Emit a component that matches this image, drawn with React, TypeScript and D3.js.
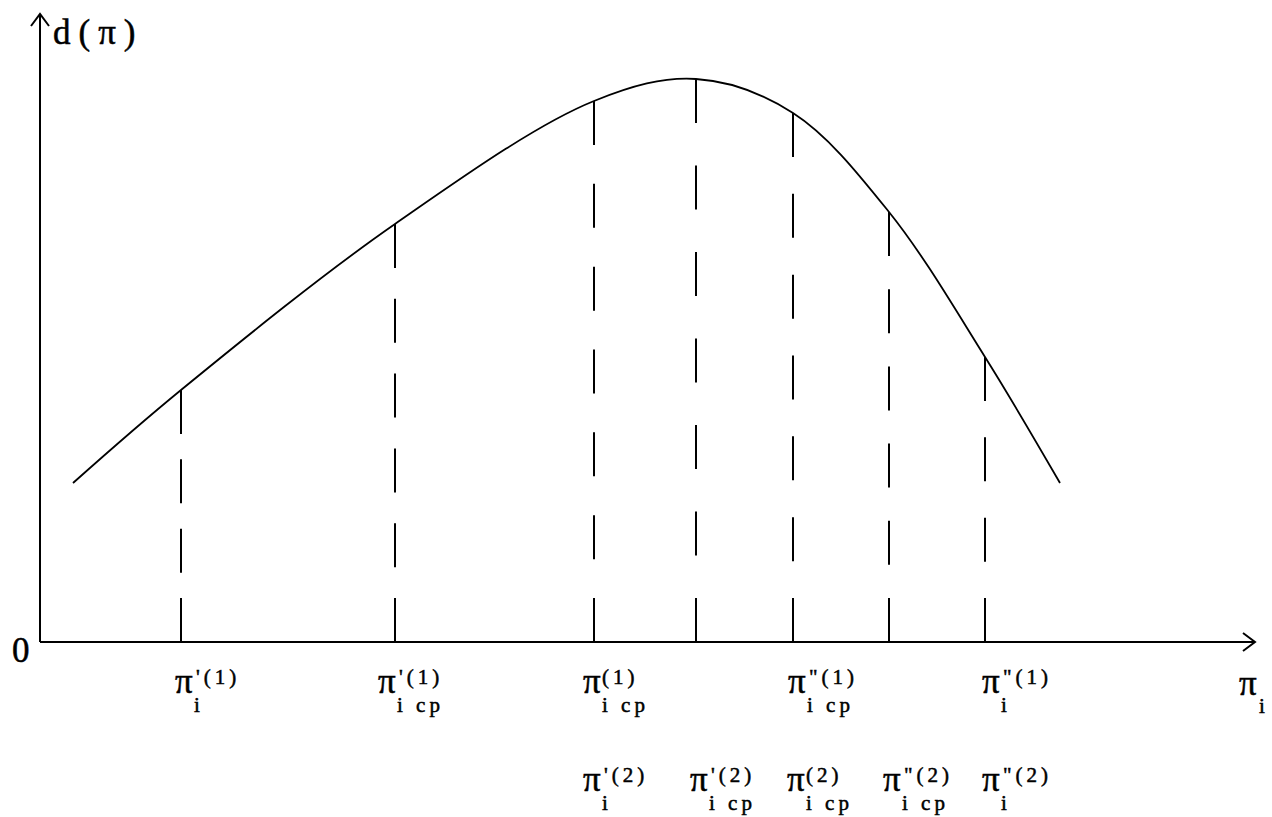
import React from "react";
import * as d3 from "d3";

// Curve d(π) sampled along the π_i axis (abstract units)
const PI_VALUES = [3.3, 14.1, 35.5, 55.4, 65.6, 75.3, 84.9, 94.5, 102.0];
const D_VALUES = [15.9, 25.2, 41.8, 54.1, 56.3, 52.9, 43.0, 28.5, 15.9];

// Positions of the characteristic points on the π_i axis (dashed drop lines)
const MARKERS = [14.1, 35.5, 55.4, 65.6, 75.3, 84.9, 94.5];

// Labels under the axis: first row (1), second row (2)
type Label = { at: number; prime: string; sup: string; sub: string; nudge: number };
const ROW1_LABELS: Label[] = [
  { at: 14.1, prime: "'", sup: "(1)", sub: "i", nudge: -6 },
  { at: 35.5, prime: "'", sup: "(1)", sub: "i cp", nudge: -17 },
  { at: 55.4, prime: "", sup: "(1)", sub: "i cp", nudge: -11 },
  { at: 75.3, prime: '"', sup: "(1)", sub: "i cp", nudge: -5 },
  { at: 94.5, prime: '"', sup: "(1)", sub: "i", nudge: -3 },
];
const ROW2_LABELS: Label[] = [
  { at: 55.4, prime: "'", sup: "(2)", sub: "i", nudge: -11 },
  { at: 65.6, prime: "'", sup: "(2)", sub: "i cp", nudge: -6 },
  { at: 75.3, prime: "", sup: "(2)", sub: "i cp", nudge: -6 },
  { at: 84.9, prime: '"', sup: "(2)", sub: "i cp", nudge: -6 },
  { at: 94.5, prime: '"', sup: "(2)", sub: "i", nudge: -3 },
];

const X_MAX = 121.5;
const Y_MAX = 62.8;

const W = 1272;
const H = 817;
const FONT = "'Liberation Serif', 'DejaVu Serif', serif";
const MAIN_SIZE = 35;
const SMALL_SIZE = 21;
const TEXT_STROKE = 0.5;

// Dash pattern that starts on the curve and ends exactly on the axis
const DASH = 44;
const GAP = 38;
function fitDash(length: number): string {
  const n = Math.max(2, Math.round((length + GAP) / (DASH + GAP)));
  const gap = (length - DASH * n) / (n - 1);
  return `${DASH} ${Math.max(gap, 4)}`;
}

function PiLabel({ x, baseline, prime, sup, sub }: { x: number; baseline: number; prime: string; sup: string; sub: string }) {
  const piW = 19;
  return (
    <g fill="#000" stroke="#000" strokeWidth={TEXT_STROKE} fontFamily={FONT}>
      <text x={x} y={baseline} fontSize={MAIN_SIZE}>π</text>
      <text x={x + piW + (prime ? 2 : 0)} y={baseline - 9} fontSize={SMALL_SIZE} letterSpacing={4}>
        {prime}
        {sup}
      </text>
      <text x={x + piW} y={baseline + 19} fontSize={SMALL_SIZE} letterSpacing={4} xmlSpace="preserve">
        {sub}
      </text>
    </g>
  );
}

export default function App() {
  const x = d3.scaleLinear().domain([0, X_MAX]).range([40, 1255]);
  const y = d3.scaleLinear().domain([0, Y_MAX]).range([642, 14]);

  const points = PI_VALUES.map((p, i) => [p, D_VALUES[i]] as [number, number]);
  const line = d3
    .line<[number, number]>()
    .x((d) => x(d[0]))
    .y((d) => y(d[1]))
    .curve(d3.curveCatmullRom.alpha(0.5));

  const dAt = (p: number) => D_VALUES[PI_VALUES.indexOf(p)];

  const x0 = x(0);
  const y0 = y(0);
  const xEnd = x(X_MAX);
  const yEnd = y(Y_MAX);

  return (
    <svg
      width={W}
      height={H}
      style={{ position: "absolute", left: 0, top: 0, background: "#fff" }}
    >
      {/* axes with open arrowheads */}
      <g stroke="#000" strokeWidth={2} fill="none">
        <line x1={x0} y1={y0} x2={x0} y2={yEnd} />
        <polyline points={`${x0 - 9},${yEnd + 12} ${x0},${yEnd} ${x0 + 9},${yEnd + 12}`} />
        <line x1={x0} y1={y0} x2={xEnd} y2={y0} />
        <polyline points={`${xEnd - 12},${y0 - 9} ${xEnd},${y0} ${xEnd - 12},${y0 + 9}`} />
      </g>

      {/* dashed drop lines from the curve to the axis */}
      <g stroke="#000" strokeWidth={2}>
        {MARKERS.map((m) => {
          const top = y(dAt(m));
          return (
            <line key={m} x1={x(m)} y1={top} x2={x(m)} y2={y0} strokeDasharray={fitDash(y0 - top)} />
          );
        })}
      </g>

      {/* d(π) curve */}
      <path d={line(points) || ""} fill="none" stroke="#000" strokeWidth={1.8} />

      {/* axis captions */}
      <g fill="#000" stroke="#000" strokeWidth={TEXT_STROKE} fontFamily={FONT}>
        <text x={53} y={44} fontSize={MAIN_SIZE} letterSpacing={8}>d(π)</text>
        <text x={12} y={662} fontSize={MAIN_SIZE}>0</text>
        <text x={1239} y={695} fontSize={MAIN_SIZE}>π</text>
        <text x={1259} y={713} fontSize={SMALL_SIZE}>i</text>
      </g>

      {ROW1_LABELS.map((l, i) => (
        <PiLabel key={"r1" + i} x={x(l.at) + l.nudge} baseline={693} prime={l.prime} sup={l.sup} sub={l.sub} />
      ))}
      {ROW2_LABELS.map((l, i) => (
        <PiLabel key={"r2" + i} x={x(l.at) + l.nudge} baseline={791} prime={l.prime} sup={l.sup} sub={l.sub} />
      ))}
    </svg>
  );
}
